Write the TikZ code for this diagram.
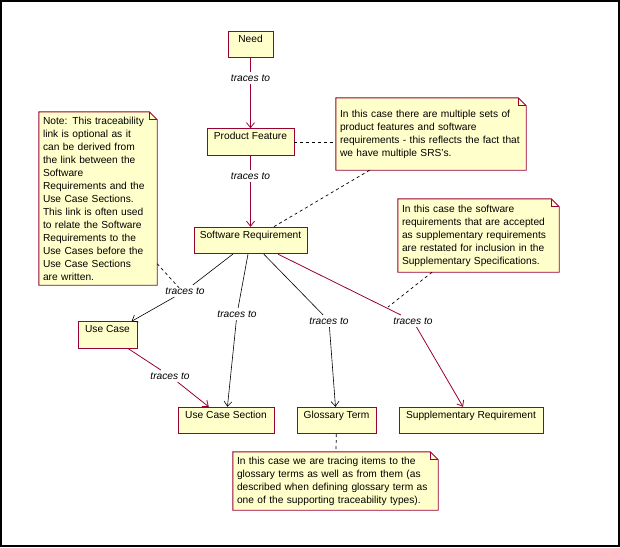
\documentclass[tikz,border=0pt]{standalone}
\usepackage{fontspec}
\setmainfont{Liberation Sans}
\usetikzlibrary{arrows.meta,backgrounds,calc}
\definecolor{rrmaroon}{HTML}{990033}
\definecolor{rryellow}{HTML}{FFFFCC}

% folded-corner outline behind a note node
\newcommand{\foldnote}[1]{%
  \begin{scope}[on background layer]
    \draw[rrmaroon,fill=rryellow,line width=0.9pt]
      (#1.north west) -- ([xshift=-8pt]#1.north east) -- ([yshift=-8pt]#1.north east)
      -- (#1.south east) -- (#1.south west) -- cycle;
    \draw[rrmaroon,line width=0.7pt]
      ([xshift=-8pt]#1.north east) |- ([yshift=-8pt]#1.north east);
  \end{scope}}

\begin{document}
\begin{tikzpicture}[x=1pt,y=-1pt,
    font=\fontsize{10.2}{13}\selectfont,
    >={Straight Barb[length=5pt,width=8pt]},
    cls/.style={draw=rrmaroon,fill=rryellow,line width=0.9pt,
      inner xsep=4pt,inner ysep=3pt,text height=8pt,text depth=12.5pt},
    note/.style={align=left,inner xsep=4pt,inner ysep=0pt},
    tlbl/.style={font=\fontsize{10.2}{13}\selectfont\itshape,inner sep=2.5pt},
    trace/.style={->,rrmaroon,line width=0.8pt},
    tracebk/.style={->,black,line width=0.6pt},
    attach/.style={dash pattern=on 3pt off 3pt,line width=0.7pt}]

  \useasboundingbox (0,0) rectangle (620,547);
  \draw[line width=1.5pt] (1,1) rectangle (619,546);

  % --- the artifacts
  \node[cls,minimum width=45pt] (need) at (250.5,44.5) {Need};
  \node[cls,minimum width=87pt] (pf) at (250.5,142) {Product Feature};
  \node[cls,minimum width=113pt] (sr) at (250.5,240.5) {Software Requirement};
  \node[cls,minimum width=59pt] (uc) at (107.5,335) {Use Case};
  \node[cls,minimum width=96pt] (ucs) at (226,420.5) {Use Case Section};
  \node[cls,minimum width=79pt] (gt) at (336.5,420.5) {Glossary Term};
  \node[cls,minimum width=144pt] (supp) at (471,420.5) {Supplementary Requirement};

  % --- notes
  \node[note,text width=110pt,minimum height=173pt] (noteopt) at (98,198.5)
       {Note: This traceability\\link is optional as it\\can be derived from\\the link between the\\Software\\Requirements and the\\Use Case Sections.\\This link is often used\\to relate the Software\\Requirements to the\\Use Cases before the\\Use Case Sections\\are written.};
  \foldnote{noteopt}
  \node[note,text width=182pt,minimum height=72pt] (notesrs) at (431,134)
       {In this case there are multiple sets of\\product features and software\\requirements - this reflects the fact that\\we have multiple SRS's.};
  \foldnote{notesrs}
  \node[note,text width=153pt,minimum height=73pt] (notesupp) at (478.5,235.5)
       {In this case the software\\requirements that are accepted\\as supplementary requirements\\are restated for inclusion in the\\Supplementary Specifications.};
  \foldnote{notesupp}
  \node[note,text width=197pt,minimum height=58pt] (notegloss) at (335.5,481)
       {In this case we are tracing items to the\\glossary terms as well as from them (as\\described when defining glossary term as\\one of the supporting traceability types).};
  \foldnote{notegloss}

  % --- traces to
  \node[tlbl] (tneed) at (250.5,78) {traces to};
  \node[tlbl] (tpf) at (250.5,176) {traces to};
  \node[tlbl] (tuc) at (185,291) {traces to};
  \node[tlbl] (tucs) at (237,314) {traces to};
  \node[tlbl] (tgt) at (329,321) {traces to};
  \node[tlbl] (tsupp) at (413,321) {traces to};
  \node[tlbl] (tucuc) at (170,376) {traces to};

  \draw[trace] (need) -- (tneed) -- (pf);
  \draw[trace] (pf) -- (tpf) -- (sr);
  \draw[tracebk] (sr) -- (tuc) -- (uc);
  \draw[tracebk] (sr) -- (tucs) -- (ucs);
  \draw[tracebk] (sr) -- (tgt) -- (gt);
  \draw[trace] (sr) -- (tsupp) -- (supp);
  \draw[trace] (uc) -- (tucuc) -- (ucs);

  % --- note anchors
  \coordinate (ucmid) at ($(sr)!0.5!(uc)$);
  \coordinate (suppmid) at (388,307);
  \draw[attach] (pf) -- (pf -| notesrs.west);
  \draw[attach] (notesrs) -- (sr);
  \draw[attach] (noteopt) -- (ucmid);
  \draw[attach] (notesupp) -- (suppmid);
  \draw[attach] (gt) -- (notegloss);
\end{tikzpicture}
\end{document}
